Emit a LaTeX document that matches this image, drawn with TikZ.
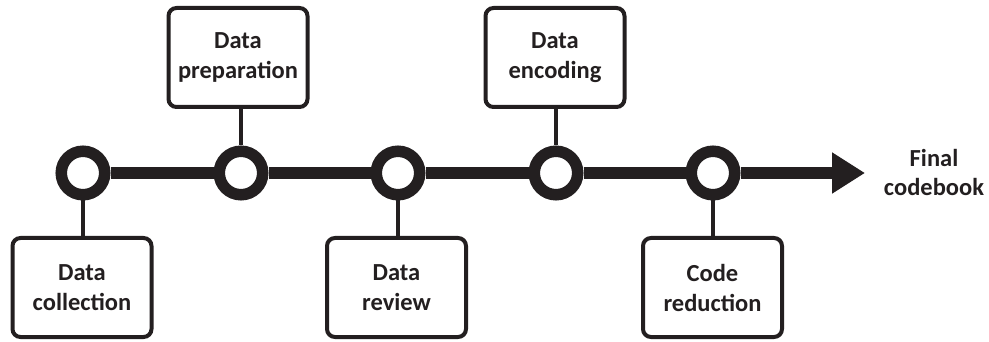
\documentclass[tikz,border=0pt]{standalone}
\usepackage{fontspec}
\setmainfont{Carlito}
\usetikzlibrary{arrows.meta}

\definecolor{ink}{HTML}{231F20}

\tikzset{
  stage/.style={draw=ink, line width=4pt, rounded corners=8pt, fill=white,
    minimum width=139pt, minimum height=99pt, inner sep=0pt,
    align=center, text=ink,
    font=\fontsize{24.5pt}{30pt}\selectfont\bfseries},
  milestone/.style={circle, draw=ink, line width=11.5pt, fill=white,
    minimum size=43.5pt, inner sep=0pt},
  stem/.style={draw=ink, line width=4.6pt},
  spine/.style={draw=ink, line width=11.5pt},
}

\begin{document}
\begin{tikzpicture}[x=1pt, y=-1pt]
  \useasboundingbox (0,0) rectangle (989,342);

  % milestones along the timeline
  \node[milestone] (c1) at (83,173)  {};
  \node[milestone] (c2) at (241,173) {};
  \node[milestone] (c3) at (398,173) {};
  \node[milestone] (c4) at (556,173) {};
  \node[milestone] (c5) at (713,173) {};
  \coordinate (tip) at (865,173);

  % stage boxes
  \node[stage] (b1) at (82,287.5)    {Data\\collection};
  \node[stage] (b2) at (238,57.5)    {Data\\preparation};
  \node[stage] (b3) at (396.5,287.5) {Data\\review};
  \node[stage] (b4) at (555,57.5)    {Data\\encoding};
  \node[stage] (b5) at (712.5,287.5) {Code\\reduction};

  \node[align=center, text=ink, inner sep=0pt,
        font=\fontsize{24.5pt}{29pt}\selectfont\bfseries] (final) at (934,172)
        {Final\\codebook};

  % timeline spine
  \path[spine] (c1) -- (c2);
  \path[spine] (c2) -- (c3);
  \path[spine] (c3) -- (c4);
  \path[spine] (c4) -- (c5);
  \path[spine, -{Triangle[length=33pt, width=39pt]}] (c5) -- (tip);

  % stems joining milestones to their boxes
  \path[stem] (c1) -- (c1 |- b1.north);
  \path[stem] (c2) -- (c2 |- b2.south);
  \path[stem] (c3) -- (c3 |- b3.north);
  \path[stem] (c4) -- (c4 |- b4.south);
  \path[stem] (c5) -- (c5 |- b5.north);
\end{tikzpicture}
\end{document}
